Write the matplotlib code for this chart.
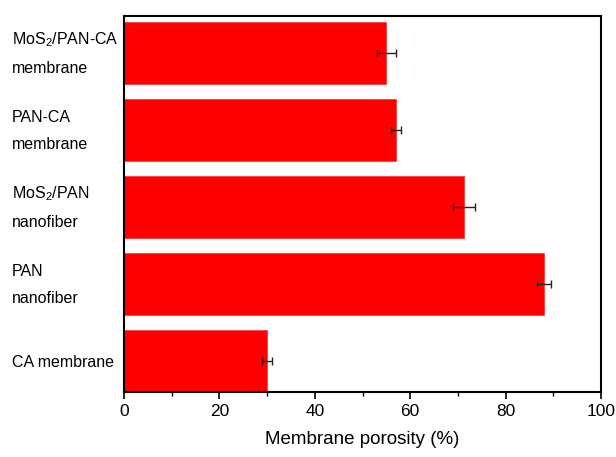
import matplotlib
matplotlib.use("Agg")
import matplotlib.pyplot as plt
from matplotlib.ticker import MultipleLocator
from matplotlib.transforms import ScaledTranslation

plt.rcParams['font.family'] = ['Liberation Sans', 'DejaVu Sans']
plt.rcParams['mathtext.default'] = 'regular'

categories = ["CA membrane", "PAN\nnanofiber", "MoS$_2$/PAN\nnanofiber",
              "PAN-CA\nmembrane", "MoS$_2$/PAN-CA\nmembrane"]
porosity = [30.0, 88.0, 71.3, 57.0, 55.0]
errors = [1.0, 1.5, 2.3, 1.0, 2.0]

fig = plt.figure(figsize=(6.16, 4.57), dpi=100)
ax = fig.add_axes([124/616, 1 - 392/457, (601-124)/616, (392-16)/457])

y = list(range(len(categories)))
ax.barh(y, porosity, height=0.8, color='#ff0000', edgecolor='#ff3030', linewidth=0.5,
        xerr=errors, error_kw=dict(ecolor='#222222', elinewidth=1.0, capsize=3, capthick=1.0))

ax.set_xlim(0, 100)
ax.set_ylim(-0.4, 4.48)
ax.xaxis.set_major_locator(MultipleLocator(20))
ax.xaxis.set_minor_locator(MultipleLocator(10))
ax.tick_params(axis='x', which='major', direction='out', length=5, width=1.2,
               labelsize=12.5, pad=4)
ax.tick_params(axis='x', which='minor', direction='out', length=3, width=1.0)
ax.set_yticks(y)
ax.set_yticklabels(categories, fontsize=11.5, ha='left', linespacing=2.0)
ax.tick_params(axis='y', length=0, pad=81)
for lab in ax.get_yticklabels():
    if "\n" in lab.get_text():
        lab.set_transform(lab.get_transform() + ScaledTranslation(0, 0.07, fig.dpi_scale_trans))
for s in ax.spines.values():
    s.set_linewidth(1.5)
ax.set_xlabel("Membrane porosity (%)", fontsize=13.5, labelpad=8)

fig.savefig("out.png", dpi=100)
